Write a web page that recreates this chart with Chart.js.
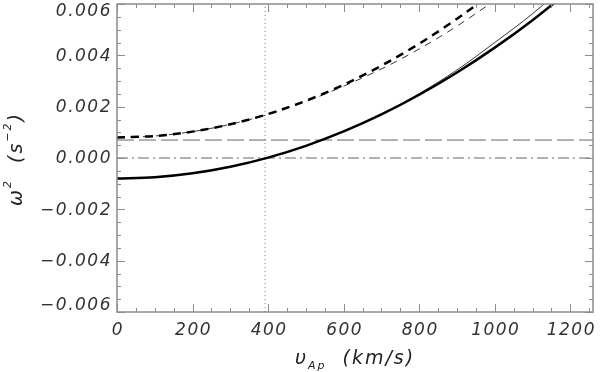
<!DOCTYPE html>
<html>
<head>
<meta charset="utf-8">
<script src="https://cdn.jsdelivr.net/npm/chart.js@4.4.1/dist/chart.umd.min.js"></script>
<style>
  html, body { margin: 0; padding: 0; background: #fff; }
  #wrap { width: 600px; height: 372px; }
</style>
</head>
<body>
<div id="wrap"><canvas id="omegaChart" width="600" height="372"></canvas></div>
<script>
// v_Ap in km/s
const vAp = [0, 100, 200, 300, 400, 500, 600, 700, 800, 900, 1000, 1100, 1200];

// omega^2 in s^-2
const thickSolid  = [-0.0008, -0.00075, -0.000596, -0.000341, 0.000016, 0.000475, 0.001036, 0.001699, 0.002464, 0.003331, 0.0043, 0.005371, 0.006544];
const thinSolid   = [-0.0008, -0.00075, -0.000596, -0.000341, 0.000016, 0.000475, 0.001036, 0.00171, 0.00251, 0.00343, 0.0045, 0.00562, 0.0069];
const thickDashed = [0.0008, 0.000857, 0.001028, 0.001314, 0.001714, 0.002228, 0.002856, 0.003598, 0.004454, 0.005425, 0.00651, 0.00771, 0.0090];
const thinDashed  = [0.0008, 0.000857, 0.001028, 0.001314, 0.0017, 0.0022, 0.0028, 0.00347, 0.00425, 0.00514, 0.00615, 0.0073, 0.0085];

const cutoffLevel = 0.0007;   // long dashed horizontal
const zeroLevel = 0;          // dash-dot horizontal
const vCrossing = 392;        // dotted vertical

const xRange = [0, 1260];
const yRange = [-0.006, 0.006];
const xTicks = [0, 200, 400, 600, 800, 1000, 1200];
const yTicks = [-0.006, -0.004, -0.002, 0, 0.002, 0.004, 0.006];

const pts = arr => arr.map((y, i) => ({ x: vAp[i], y }));

const fmtY = v => (Math.abs(v) < 1e-9 ? 0 : v).toFixed(3).replace('-', '−');

// box with inward ticks on all four sides, IDL style, plus labels and titles
const frame = {
  id: 'frame',
  afterDraw(chart) {
    const { ctx, chartArea: { left, right, top, bottom }, scales: { x, y } } = chart;
    ctx.save();
    ctx.strokeStyle = '#8c8c8c';
    ctx.lineWidth = 1.5;
    ctx.strokeRect(left, top, right - left, bottom - top);
    ctx.lineWidth = 1;
    ctx.beginPath();
    for (let v = xRange[0]; v <= xRange[1]; v += 50) {
      const px = Math.round(x.getPixelForValue(v)) + 0.5;
      const len = v % 200 === 0 ? 8 : 4;
      ctx.moveTo(px, bottom); ctx.lineTo(px, bottom - len);
      ctx.moveTo(px, top); ctx.lineTo(px, top + len);
    }
    for (let k = -12; k <= 12; k++) {
      const py = Math.round(y.getPixelForValue(k * 0.0005)) + 0.5;
      const len = k % 4 === 0 ? 8 : 4;
      ctx.moveTo(left, py); ctx.lineTo(left + len, py);
      ctx.moveTo(right, py); ctx.lineTo(right - len, py);
    }
    ctx.stroke();

    // tick labels (end labels are kept inside the box height)
    ctx.font = 'italic 300 17px "DejaVu Sans"';
    ctx.fillStyle = '#333';
    ctx.letterSpacing = '1.5px';
    ctx.textBaseline = 'middle';
    ctx.textAlign = 'center';
    xTicks.forEach(v => ctx.fillText(String(v), x.getPixelForValue(v) + 1, 331));
    ctx.textAlign = 'right';
    yTicks.forEach(v => {
      const py = Math.min(Math.max(y.getPixelForValue(v) + 1, top + 8), bottom - 6);
      ctx.fillText(fmtY(v), left - 5, py);
    });

    // axis titles
    ctx.fillStyle = '#222';
    ctx.textAlign = 'left';
    ctx.textBaseline = 'alphabetic';
    ctx.letterSpacing = '2px';
    const big = 'italic 300 19px "DejaVu Sans"';
    const small = 'italic 300 11px "DejaVu Sans"';

    // x title: v_Ap (km/s)
    const parts = [['υ', big, 0], ['Ap', small, 5], ['  (km/s)', big, 0]];
    let w = 0;
    parts.forEach(p => { ctx.font = p[1]; w += ctx.measureText(p[0]).width; });
    let cx = (left + right) / 2 - w / 2;
    const by = 364;
    parts.forEach(p => { ctx.font = p[1]; ctx.fillText(p[0], cx, by + p[2]); cx += ctx.measureText(p[0]).width; });

    // y title: omega^2 (s^-2)
    ctx.translate(22, (top + bottom) / 2 + 1);
    ctx.rotate(-Math.PI / 2);
    const yparts = [['ω', big, 0], ['2', small, -11], ['  (s', big, 0], ['−2', small, -11], [')', big, 0]];
    w = 0;
    yparts.forEach(p => { ctx.font = p[1]; w += ctx.measureText(p[0]).width; });
    cx = -w / 2;
    yparts.forEach(p => { ctx.font = p[1]; ctx.fillText(p[0], cx, p[2]); cx += ctx.measureText(p[0]).width; });
    ctx.restore();
  }
};

new Chart(document.getElementById('omegaChart'), {
  type: 'line',
  data: {
    datasets: [
      { data: pts(thickSolid), borderColor: '#000', borderWidth: 2.5 },
      { data: pts(thinSolid), borderColor: '#000', borderWidth: 0.8 },
      { data: pts(thickDashed), borderColor: '#000', borderWidth: 2.5, borderDash: [8, 6] },
      { data: pts(thinDashed), borderColor: '#000', borderWidth: 0.8, borderDash: [7, 6] },
      { data: [{ x: xRange[0], y: cutoffLevel }, { x: xRange[1], y: cutoffLevel }], borderColor: '#666', borderWidth: 1, borderDash: [17, 5] },
      { data: [{ x: xRange[0], y: zeroLevel }, { x: xRange[1], y: zeroLevel }], borderColor: '#999', borderWidth: 1.5, borderDash: [11, 4, 2, 4] },
      { data: [{ x: vCrossing, y: yRange[0] }, { x: vCrossing, y: yRange[1] }], borderColor: '#777', borderWidth: 1, borderDash: [1, 3] }
    ]
  },
  options: {
    responsive: false,
    animation: false,
    layout: { padding: { top: 4, right: 7, left: 0, bottom: 0 } },
    elements: { point: { radius: 0 }, line: { cubicInterpolationMode: 'monotone', fill: false } },
    plugins: { legend: { display: false }, tooltip: { enabled: false } },
    scales: {
      x: {
        type: 'linear', min: xRange[0], max: xRange[1],
        grid: { display: false }, border: { display: false },
        ticks: { display: false },
        afterFit: s => { s.height = 60; }
      },
      y: {
        type: 'linear', min: yRange[0], max: yRange[1],
        grid: { display: false }, border: { display: false },
        ticks: { display: false },
        afterFit: s => { s.width = 117; }
      }
    }
  },
  plugins: [frame]
});
</script>
</body>
</html>
